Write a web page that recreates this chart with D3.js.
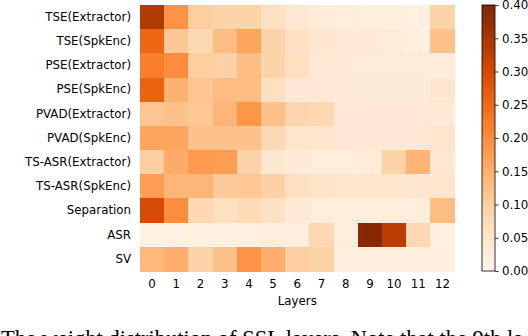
<!DOCTYPE html>
<html>
<head>
<meta charset="utf-8">
<script src="https://cdn.jsdelivr.net/npm/d3@7"></script>
<style>
  html, body { margin: 0; padding: 0; background: #fff; overflow: hidden; }
  svg { display: block; }
</style>
</head>
<body>
<svg id="chart" width="528" height="336"></svg>
<script>
const tasks = ["TSE(Extractor)", "TSE(SpkEnc)", "PSE(Extractor)", "PSE(SpkEnc)",
  "PVAD(Extractor)", "PVAD(SpkEnc)", "TS-ASR(Extractor)", "TS-ASR(SpkEnc)",
  "Separation", "ASR", "SV"];
const layers = ["0","1","2","3","4","5","6","7","8","9","10","11","12"];
const tseExtractor   = [0.34, 0.19, 0.10, 0.09, 0.09, 0.06, 0.04, 0.03, 0.025, 0.02, 0.02, 0.015, 0.09];
const tseSpkEnc      = [0.255, 0.11, 0.08, 0.13, 0.165, 0.09, 0.06, 0.045, 0.035, 0.035, 0.03, 0.02, 0.12];
const pseExtractor   = [0.22, 0.20, 0.10, 0.095, 0.13, 0.09, 0.065, 0.04, 0.035, 0.03, 0.03, 0.03, 0.03];
const pseSpkEnc      = [0.26, 0.145, 0.115, 0.13, 0.13, 0.065, 0.04, 0.04, 0.035, 0.033, 0.033, 0.033, 0.045];
const pvadExtractor  = [0.115, 0.12, 0.11, 0.14, 0.185, 0.12, 0.085, 0.08, 0.04, 0.04, 0.04, 0.04, 0.035];
const pvadSpkEnc     = [0.165, 0.165, 0.12, 0.12, 0.12, 0.08, 0.05, 0.05, 0.04, 0.04, 0.04, 0.04, 0.05];
const tsasrExtractor = [0.10, 0.155, 0.18, 0.175, 0.09, 0.045, 0.035, 0.025, 0.025, 0.03, 0.09, 0.14, 0.04];
const tsasrSpkEnc    = [0.175, 0.14, 0.14, 0.105, 0.11, 0.095, 0.065, 0.055, 0.05, 0.05, 0.05, 0.045, 0.05];
const separation     = [0.30, 0.20, 0.08, 0.065, 0.075, 0.06, 0.035, 0.025, 0.025, 0.025, 0.025, 0.025, 0.13];
const asr            = [0.012, 0.014, 0.018, 0.018, 0.018, 0.022, 0.022, 0.08, 0.025, 0.39, 0.33, 0.08, 0.015];
const sv             = [0.135, 0.15, 0.09, 0.12, 0.19, 0.15, 0.10, 0.09, 0.02, 0.02, 0.02, 0.02, 0.02];
const colorTicks = [0.00, 0.05, 0.10, 0.15, 0.20, 0.25, 0.30, 0.35, 0.40];
const caption = "The weight distribution of SSL layers. Note that the 9th la";

(function () {
const matrix = [tseExtractor, tseSpkEnc, pseExtractor, pseSpkEnc, pvadExtractor, pvadSpkEnc,
  tsasrExtractor, tsasrSpkEnc, separation, asr, sv];
const cells = [];
matrix.forEach((row, i) => row.forEach((v, j) => cells.push({task: tasks[i], layer: layers[j], v})));

const svg = d3.select("#chart");
const font = "DejaVu Sans, sans-serif";
const fs = 11.8;
const mLeft = 140, mRight = 454.6, mTop = 5, mBottom = 271;

const x = d3.scaleBand().domain(layers).range([mLeft, mRight]).padding(0);
const y = d3.scaleBand().domain(tasks).range([mTop, mBottom]).padding(0);
const color = d3.scaleSequential(d3.interpolateOranges).domain([0, 0.4]);

svg.append("g").selectAll("rect").data(cells).join("rect")
  .attr("x", d => x(d.layer))
  .attr("y", d => y(d.task))
  .attr("width", x.bandwidth() + 0.5)
  .attr("height", y.bandwidth() + 0.5)
  .attr("fill", d => color(d.v))
  .attr("shape-rendering", "crispEdges");

const ya = svg.append("g").attr("transform", `translate(${mLeft},0)`)
  .attr("font-family", font).attr("font-size", fs)
  .call(d3.axisLeft(y).tickSize(0).tickPadding(9));
ya.select(".domain").remove();
ya.selectAll("text").attr("font-family", font).attr("font-size", fs).attr("fill", "#000");

const xa = svg.append("g").attr("transform", `translate(0,${mBottom})`)
  .attr("font-family", font).attr("font-size", fs)
  .call(d3.axisBottom(x).tickSize(0).tickPadding(8.5));
xa.select(".domain").remove();
xa.selectAll("text").attr("font-family", font).attr("font-size", fs).attr("fill", "#000");

svg.append("text")
  .attr("x", (mLeft + mRight) / 2).attr("y", 305)
  .attr("text-anchor", "middle")
  .attr("font-family", font).attr("font-size", fs).attr("fill", "#000")
  .text("Layers");

const cbX = 482, cbW = 13;
const cy = d3.scaleLinear().domain([0, 0.4]).range([mBottom, mTop]);
const defs = svg.append("defs");
const grad = defs.append("linearGradient").attr("id", "cbgrad")
  .attr("x1", 0).attr("y1", 1).attr("x2", 0).attr("y2", 0);
d3.range(0, 1.0001, 0.02).forEach(t => {
  grad.append("stop").attr("offset", t).attr("stop-color", color(t * 0.4));
});
svg.append("rect").attr("x", cbX).attr("y", mTop).attr("width", cbW).attr("height", mBottom - mTop)
  .attr("fill", "url(#cbgrad)");
svg.append("rect").attr("x", cbX).attr("y", mTop).attr("width", cbW).attr("height", mBottom - mTop)
  .attr("fill", "none").attr("stroke", "#000").attr("stroke-width", 0.8);
const ca = svg.append("g").attr("transform", `translate(${cbX + cbW},0)`)
  .attr("font-family", font).attr("font-size", fs)
  .call(d3.axisRight(cy).tickValues(colorTicks).tickFormat(d3.format(".2f")).tickSize(3.5).tickPadding(3.5));
ca.select(".domain").remove();
ca.selectAll("line").attr("stroke", "#000").attr("stroke-width", 0.8);
ca.selectAll("text").attr("font-family", font).attr("font-size", fs).attr("fill", "#000");

svg.append("text")
  .attr("x", 1).attr("y", 346)
  .attr("font-family", "Liberation Serif, Times New Roman, serif")
  .attr("font-size", 22.5).attr("fill", "#000")
  .text(caption);
})();
</script>
</body>
</html>
